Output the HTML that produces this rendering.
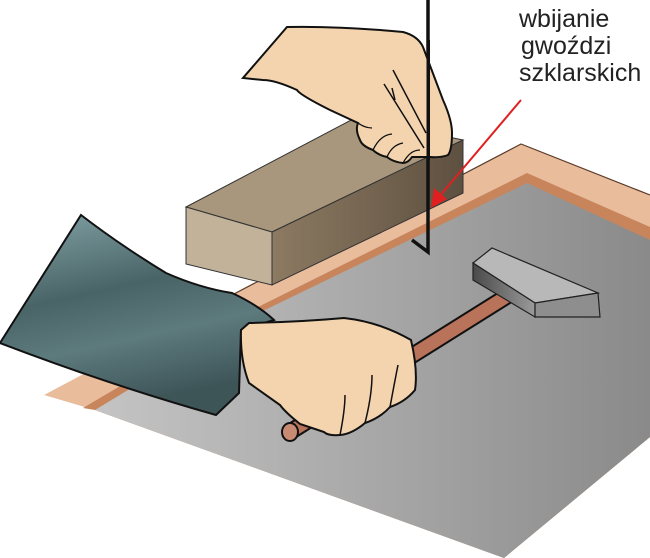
<!DOCTYPE html>
<html><head><meta charset="utf-8"><style>
html,body{margin:0;padding:0;background:#fff;}
svg{display:block;}
</style></head><body>
<svg width="650" height="558" viewBox="0 0 650 558" xmlns="http://www.w3.org/2000/svg">
<defs>
<linearGradient id="glass" x1="0" y1="0" x2="1" y2="0">
<stop offset="0" stop-color="#c4c4c4"/><stop offset="0.6" stop-color="#a2a2a2"/><stop offset="1" stop-color="#8a8a8a"/>
</linearGradient>
<linearGradient id="sleeve" x1="0" y1="0" x2="0.3" y2="1">
<stop offset="0" stop-color="#83a3a6"/><stop offset="0.45" stop-color="#496467"/><stop offset="0.7" stop-color="#5d7a7d"/><stop offset="1" stop-color="#3e5558"/>
</linearGradient>
<linearGradient id="blockfront" x1="0" y1="0" x2="1" y2="0">
<stop offset="0" stop-color="#8c7a62"/><stop offset="1" stop-color="#5e5040"/>
</linearGradient>
<linearGradient id="hhead" x1="0" y1="0" x2="1" y2="0">
<stop offset="0" stop-color="#4a4a4a"/><stop offset="1" stop-color="#9a9a9a"/>
</linearGradient>
</defs>
<!-- frame outer -->
<polygon points="521,144 650,195 650,437 504,558 95,410 44,395 232,295" fill="#e9bc9c"/>
<!-- inner darker strip -->
<polygon points="527,173 650,227 650,437 504,558 95,410 83,408 232,320" fill="#c8845a"/>
<!-- glass -->
<polygon points="527,183 650,240 650,437 504,558 95,410 240,322" fill="url(#glass)"/>
<polyline points="232,295 521,144 650,195" fill="none" stroke="#5a3a28" stroke-width="1.2"/>
<!-- block -->
<polygon points="186,207 355,118 463,140 272,232" fill="#a8977c" stroke="#333" stroke-width="1"/>
<polygon points="272,232 463,140 463,193 272,285" fill="url(#blockfront)" stroke="#333" stroke-width="1"/>
<polygon points="186,207 272,232 272,285 186,264" fill="#c2b29a" stroke="#333" stroke-width="1"/>
<!-- nail -->
<polyline points="428,0 428,252 412,240" fill="none" stroke="#111" stroke-width="3.5"/>
<!-- upper hand -->
<path d="M287,27 Q340,26 403,32 Q418,36 423,47 L443,100 Q452,120 452,133 Q452,150 448,155 Q440,158 430,157 L412,157 Q408,163 403,163 Q393,162 387,157 Q378,155 373,150 Q362,146 360,140 Q355,130 358,123 L330,110 Q300,95 297,90 Q275,80 263,80 L243,78 Z" fill="#f4d4ae" stroke="#111" stroke-width="2"/>
<path d="M393,70 L426,133 M384,84 L424,148 M392,88 L395,100" fill="none" stroke="#111" stroke-width="1.5"/>
<path d="M373,150 Q380,135 392,134 M387,157 Q392,145 403,143 M403,163 Q410,150 420,150 M358,123 Q365,128 372,128" fill="none" stroke="#111" stroke-width="1.3"/>
<rect x="426.5" y="40" width="3.5" height="120" fill="#111"/>
<!-- red arrow -->
<line x1="521" y1="100" x2="438" y2="198" stroke="#e02020" stroke-width="2"/>
<polygon points="431,208 434,188 447,199" fill="#e02020"/>
<!-- hammer handle -->
<line x1="290" y1="432" x2="520" y2="288" stroke="#111" stroke-width="17" stroke-linecap="round"/>
<line x1="290" y1="432" x2="520" y2="288" stroke="#b9735a" stroke-width="13" stroke-linecap="round"/>
<ellipse cx="290" cy="432" rx="8" ry="9" fill="#c98a73" stroke="#111" stroke-width="2"/>
<!-- hammer head -->
<polygon points="473,263 492,248 598,293 535,303" fill="#b8b8b8" stroke="#222" stroke-width="1.2"/>
<polygon points="473,263 535,303 535,317 473,280" fill="url(#hhead)" stroke="#222" stroke-width="1.2"/>
<polygon points="535,303 598,293 600,317 535,317" fill="#8e8e8e" stroke="#222" stroke-width="1.2"/>
<!-- sleeve -->
<path d="M81,215 Q120,245 166,273 Q200,288 232,293 Q258,305 274,320 L241,330 L239,393 L216,415 Q110,385 0,343 Z" fill="url(#sleeve)" stroke="#111" stroke-width="2"/>
<!-- lower hand -->
<path d="M249,323 Q300,322 344,318 Q380,322 411,340 Q418,370 415,390 Q405,402 390,407 Q380,418 365,423 Q352,434 340,435 Q328,436 324,432 L318,430 L300,424 Q285,412 280,405 L249,383 Q240,360 241,330 Z" fill="#f4d4ae" stroke="#111" stroke-width="2"/>
<path d="M390,407 Q395,380 398,365 M365,423 Q372,395 372,375 M340,435 Q345,410 345,395" fill="none" stroke="#111" stroke-width="1.5"/>
<!-- text -->
<g font-family="'Liberation Sans', sans-serif" font-size="25" fill="#222">
<text x="519" y="27">wbijanie</text>
<text x="521" y="54">gwoździ</text>
<text x="519" y="81">szklarskich</text>
</g>
</svg>
</body></html>
